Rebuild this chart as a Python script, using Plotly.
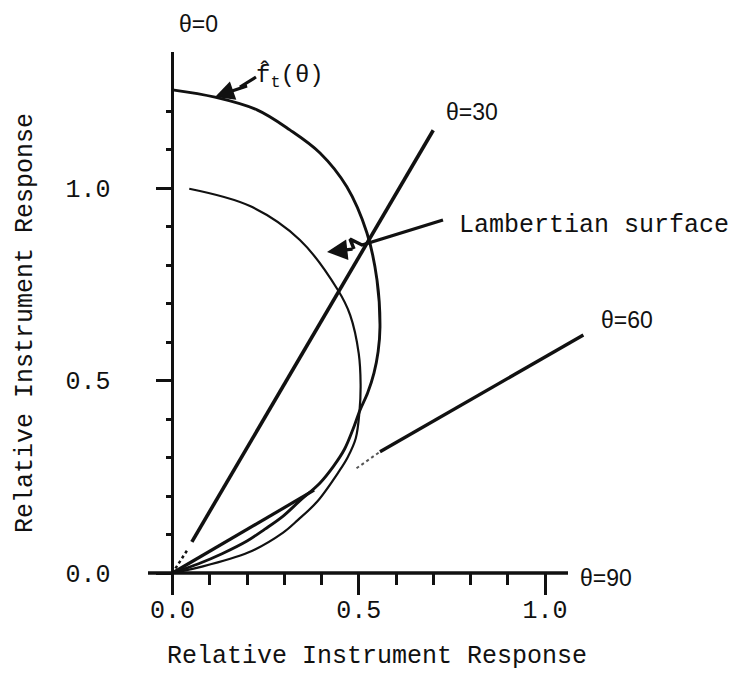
import plotly.graph_objects as go

# ---------------- data ----------------
# f_t(theta) response curve, traced from theta=0 (top) to theta=90 (origin)
ft_x = [0.000, 0.114, 0.227, 0.315, 0.396, 0.468, 0.522, 0.549, 0.557, 0.552,
        0.541, 0.524, 0.503, 0.484, 0.462, 0.432, 0.396, 0.340, 0.297, 0.248,
        0.200, 0.133, 0.070, 0.000]
ft_y = [1.255, 1.236, 1.203, 1.151, 1.091, 1.003, 0.883, 0.761, 0.639, 0.575,
        0.520, 0.468, 0.422, 0.372, 0.322, 0.277, 0.234, 0.186, 0.148, 0.114,
        0.083, 0.050, 0.024, 0.000]

# Lambertian surface response curve
lam_x = [0.045, 0.208, 0.342, 0.444, 0.477, 0.500, 0.505, 0.502, 0.492, 0.470,
         0.447, 0.388, 0.337, 0.297, 0.203, 0.068, 0.000]
lam_y = [0.998, 0.953, 0.865, 0.735, 0.670, 0.570, 0.490, 0.420, 0.350, 0.300,
         0.264, 0.185, 0.138, 0.105, 0.053, 0.014, 0.000]

# theta = 30 deg ray
th30_x = [0.052, 0.700]
th30_y = [0.081, 1.150]
th30_stub_x = [0.008, 0.040]
th30_stub_y = [0.012, 0.060]

# theta = 60 deg ray (inner part, faint part, outer part)
th60_in_x = [0.000, 0.380]
th60_in_y = [0.000, 0.215]
th60_faint_x = [0.494, 0.557]
th60_faint_y = [0.272, 0.315]
th60_out_x = [0.557, 1.103]
th60_out_y = [0.315, 0.618]

# axes ticks
x_major_ticks = [0.0, 0.5, 1.0]
x_major_labels = ["0.0", "0.5", "1.0"]
x_minor_ticks = [0.1, 0.2, 0.3, 0.4, 0.6, 0.7, 0.8, 0.9]
y_major_ticks = [0.0, 0.5, 1.0]
y_major_labels = ["0.0", "0.5", "1.0"]
y_minor_ticks = [0.1, 0.2, 0.3, 0.4, 0.6, 0.7, 0.8, 0.9, 1.1, 1.2]

x_title = "Relative Instrument Response"
y_title = "Relative Instrument Response"

# ---------------- layout geometry ----------------
W, H = 736, 673
X0_PX, Y0_PX = 172.5, 573.0        # pixel position of the origin
PX_PER_X, PX_PER_Y = 372.5, 385.0  # pixels per data unit

x_range = [-X0_PX / PX_PER_X, (W - X0_PX) / PX_PER_X]
y_range = [-(H - Y0_PX) / PX_PER_Y, Y0_PX / PX_PER_Y]


def dx(px):
    return (px - X0_PX) / PX_PER_X


def dy(py):
    return (Y0_PX - py) / PX_PER_Y


MONO = "Liberation Mono"
SANS = "Liberation Sans"
INK = "#111111"

fig = go.Figure()
annotations = []


def line(x, y, width, dash="solid", shape="linear", color=INK):
    fig.add_trace(go.Scatter(x=x, y=y, mode="lines",
                             line=dict(color=color, width=width, dash=dash,
                                       shape=shape, smoothing=1.0),
                             hoverinfo="skip", showlegend=False))


def pointer(px_pts, head_px, width):
    """Zig-zag pointer shaft (pixel positions) ending in an arrow head."""
    line([dx(p[0]) for p in px_pts], [dy(p[1]) for p in px_pts], width)
    last = px_pts[-1]
    annotations.append(dict(text="", x=dx(head_px[0]), y=dy(head_px[1]),
                            xref="x", yref="y",
                            ax=last[0] - head_px[0], ay=last[1] - head_px[1],
                            showarrow=True, arrowhead=2, arrowsize=1.2,
                            arrowwidth=width, arrowcolor=INK))


# axis lines
line([dx(148), dx(568)], [0, 0], 3.5)
line([0, 0], [dy(576), dy(52)], 3)

# curves
line(ft_x, ft_y, 2.9, shape="spline")
line(lam_x, lam_y, 2.2, shape="spline")

# rays
line(th30_x, th30_y, 3.6)
line(th30_stub_x, th30_stub_y, 2.5, dash="dot")
line(th60_in_x, th60_in_y, 3.2)
line(th60_faint_x, th60_faint_y, 2, dash="dot", color="#555555")
line(th60_out_x, th60_out_y, 3.4)

# pointers (label arrows)
pointer([(256, 77), (240, 87), (247, 86), (232, 91)], (215, 97), 3.2)
pointer([(443, 220), (362, 245), (350, 239), (354, 249)], (327, 252), 3.4)


def label(text, x, y, size=23, family=SANS, xanchor="center", yanchor="middle", **kw):
    annotations.append(dict(text=text, x=x, y=y, xref="x", yref="y",
                            showarrow=False, xanchor=xanchor, yanchor=yanchor,
                            font=dict(family=family, size=size, color=INK), **kw))


label("θ=0", dx(198), dy(24))
label("θ=30", dx(472), dy(112))
label("θ=60", dx(627), dy(320))
label("θ=90", dx(578), dy(578), xanchor="left")
label("Lambertian surface", dx(457), dy(225), size=25, family=MONO, xanchor="left")
label("f̂<sub>t</sub>(θ)", dx(290), dy(76), size=24, family=MONO)

# titles
label(x_title, dx(377), dy(656), size=25, family=MONO)
label(y_title, dx(25), dy(323), size=25, family=MONO, textangle=-90)

fig.update_layout(
    width=W, height=H,
    margin=dict(l=0, r=0, t=0, b=0),
    paper_bgcolor="white", plot_bgcolor="white",
    annotations=annotations,
    xaxis=dict(range=x_range, domain=[0, 1], anchor="free",
               position=(H - Y0_PX) / H,
               showgrid=False, zeroline=False, showline=False,
               tickmode="array", tickvals=x_major_ticks, ticktext=x_major_labels,
               ticks="outside", ticklen=21, tickwidth=3, tickcolor=INK,
               ticklabelstandoff=-7,
               tickfont=dict(family=MONO, size=25, color=INK),
               minor=dict(tickmode="array", tickvals=x_minor_ticks, ticks="outside",
                          ticklen=11, tickwidth=2.5, tickcolor=INK, showgrid=False),
               fixedrange=True),
    yaxis=dict(range=y_range, domain=[0, 1], anchor="free",
               position=X0_PX / W,
               showgrid=False, zeroline=False, showline=False,
               tickmode="array", tickvals=y_major_ticks, ticktext=y_major_labels,
               ticks="outside", ticklen=17, tickwidth=3, tickcolor=INK,
               ticklabelstandoff=40,
               tickfont=dict(family=MONO, size=25, color=INK),
               minor=dict(tickmode="array", tickvals=y_minor_ticks, ticks="outside",
                          ticklen=7, tickwidth=2.5, tickcolor=INK, showgrid=False),
               fixedrange=True),
)

fig.write_html("out.html",
               config={"displayModeBar": False},
               post_script="document.body.style.margin='0px';"
                           "document.documentElement.style.overflow='hidden';")
